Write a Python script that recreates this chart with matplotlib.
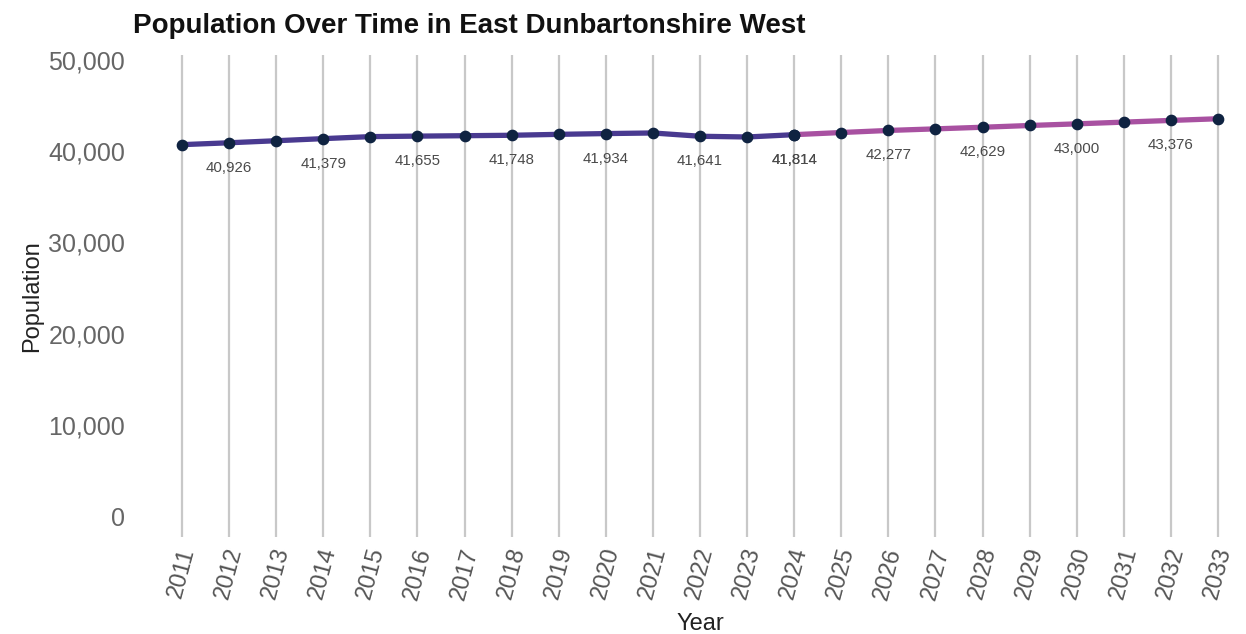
import matplotlib
matplotlib.use("Agg")
import matplotlib.pyplot as plt
from matplotlib.ticker import FuncFormatter

plt.rcParams['font.family'] = ['Liberation Sans', 'DejaVu Sans']

# data
hist_years = list(range(2011, 2025))
hist_pop = [40720, 40926, 41150, 41379, 41600, 41655, 41700, 41748,
            41850, 41934, 42000, 41641, 41560, 41814]
proj_years = list(range(2024, 2034))
proj_pop = [41814, 42050, 42277, 42450, 42629, 42820, 43000, 43190,
            43376, 43560]

hist_color = "#3f2f8a"
proj_color = "#a4489c"
dot_color = "#0f2341"

fig = plt.figure(figsize=(12.46, 6.34), dpi=100)
# axes placed in pixels so the years land where the reference has them
left, right, top, bottom = 158.5, 1241.5, 55, 537
ax = fig.add_axes([left / 1246, 1 - bottom / 634, (right - left) / 1246, (bottom - top) / 634])

ax.plot(hist_years, hist_pop, color=hist_color, lw=3.8, alpha=0.95, solid_capstyle='round', zorder=3)
ax.plot(proj_years, proj_pop, color=proj_color, lw=3.8, alpha=0.95, solid_capstyle='round', zorder=3)
ax.scatter(hist_years, hist_pop, s=55, color=dot_color, zorder=4)
ax.scatter(proj_years, proj_pop, s=55, color=dot_color, zorder=4)

# labels on every other point, below the marker
def label_points(years, pops, start):
    for i in range(start, len(years), 2):
        ax.annotate(f"{pops[i]:,}", (years[i], pops[i]), xytext=(0, -18),
                    textcoords='offset points', ha='center', va='center',
                    fontsize=10.8, color='#4a4a4a')

label_points(hist_years, hist_pop, 1)
label_points(proj_years, proj_pop, 0)

all_years = list(range(2011, 2034))
ax.set_xlim(2010.5, 2033.5)
ax.set_ylim(-2300, 50550)
ax.set_xticks(all_years)
ax.set_xticklabels([str(y) for y in all_years], rotation=75, fontsize=17, color='#555555')
ax.set_yticks([0, 10000, 20000, 30000, 40000, 50000])
ax.yaxis.set_major_formatter(FuncFormatter(lambda v, p: f"{int(v):,}"))
ax.tick_params(axis='y', length=0, pad=24, labelsize=18, labelcolor='#666666')
ax.tick_params(axis='x', length=0, pad=6)

ax.grid(axis='x', color='#c8c8c8', lw=1.6)
ax.grid(axis='y', visible=False)
for s in ax.spines.values():
    s.set_visible(False)

ax.set_xlabel("Year", fontsize=17, color='#222222', labelpad=8)
ax.set_ylabel("Population", fontsize=17, color='#222222', labelpad=4)
fig.text(133 / 1246, 1 - 26 / 634, "Population Over Time in East Dunbartonshire West",
         fontsize=20, fontweight='bold', ha='left', va='center', color='#111111')

fig.savefig("out.png", dpi=100)
